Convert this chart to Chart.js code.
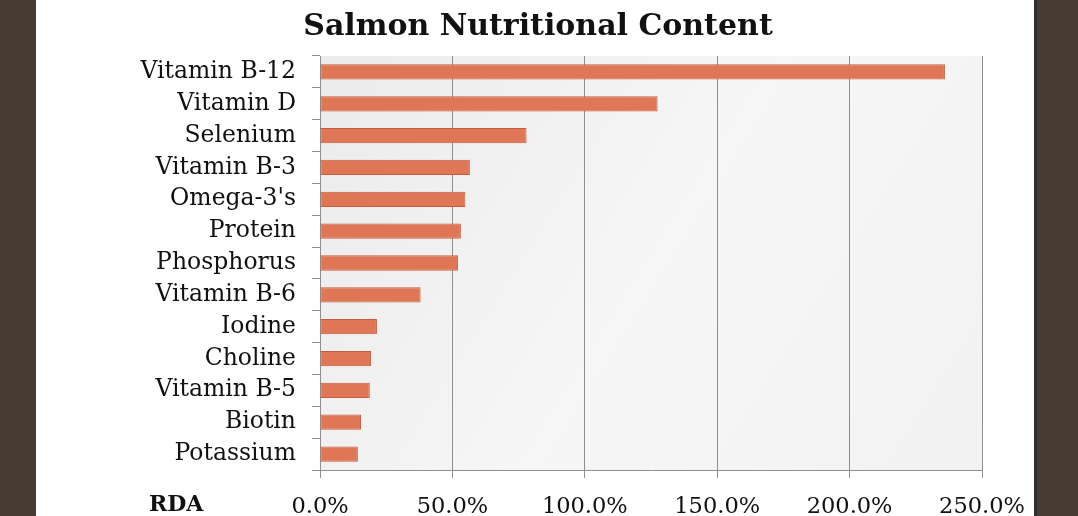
<!DOCTYPE html>
<html>
<head>
<meta charset="utf-8">
<script src="https://cdn.jsdelivr.net/npm/chart.js@4"></script>
<style>
    html, body { margin: 0; padding: 0; background: #463c33; }
    #frame {
        position: absolute;
        left: 36px;
        top: 0;
        width: 998px;
        height: 516px;
        background: #ffffff;
        border-right: 3px solid #2f2f2f;
    }
</style>
</head>
<body>
<div id="frame"><canvas id="salmonChart" width="998" height="516"></canvas></div>
<script>
    const nutrients = [
        "Vitamin B-12", "Vitamin D", "Selenium", "Vitamin B-3", "Omega-3's",
        "Protein", "Phosphorus", "Vitamin B-6", "Iodine", "Choline",
        "Vitamin B-5", "Biotin", "Potassium"
    ];
    const rdaPercent = [236, 127.5, 78, 56.6, 54.9, 53.2, 52.1, 38, 21.5, 19.3, 18.8, 15.5, 14.3];
    const axisTicks = [0, 50, 100, 150, 200, 250];
    const chartTitle = "Salmon Nutritional Content";
    const axisCaption = "RDA";

    const serif = "'DejaVu Serif', Georgia, serif";

    // soft grey panel behind the bars, title centred on the page, "RDA" caption
    const plotPanel = {
        id: "plotPanel",
        beforeDraw(chart) {
            const { ctx, chartArea: a } = chart;
            const g = ctx.createLinearGradient(a.left, a.top, a.right, a.bottom);
            g.addColorStop(0, "#ebebeb");
            g.addColorStop(0.5, "#f6f6f6");
            g.addColorStop(1, "#f2f2f2");
            ctx.save();
            ctx.fillStyle = g;
            ctx.fillRect(a.left, a.top, a.right - a.left, a.bottom - a.top);
            ctx.restore();
        },
        afterDraw(chart) {
            const { ctx } = chart;
            ctx.save();
            ctx.fillStyle = "#111";
            ctx.textBaseline = "alphabetic";
            ctx.textAlign = "center";
            ctx.font = "bold 30px " + serif;
            ctx.fillText(chartTitle, 502, 35);
            ctx.textAlign = "left";
            ctx.font = "bold 22px " + serif;
            ctx.fillText(axisCaption, 113, 511);
            ctx.restore();
        }
    };

    new Chart(document.getElementById("salmonChart"), {
        type: "bar",
        data: {
            labels: nutrients,
            datasets: [
                {
                    label: "RDA",
                    data: rdaPercent,
                    backgroundColor: "#df7656",
                    borderColor: "#c55c3d",
                    borderWidth: 1,
                    borderSkipped: false,
                    categoryPercentage: 1,
                    barPercentage: 0.48
                }
            ]
        },
        options: {
            indexAxis: "y",
            responsive: false,
            animation: false,
            layout: {
                padding: { left: 0, right: 52, top: 56, bottom: 0 }
            },
            plugins: {
                legend: { display: false },
                tooltip: { enabled: false },
                title: { display: false }
            },
            scales: {
                x: {
                    min: 0,
                    max: 250,
                    afterBuildTicks(scale) {
                        scale.ticks = axisTicks.map(v => ({ value: v }));
                    },
                    afterFit(scale) {
                        scale.height = 46;
                        scale.paddingLeft = 0;
                        scale.paddingRight = 0;
                    },
                    grid: {
                        color: "#8f8f8f",
                        lineWidth: 1,
                        tickLength: 8
                    },
                    border: { color: "#8f8f8f" },
                    ticks: {
                        color: "#111",
                        padding: 16,
                        font: { family: serif, size: 22.5 },
                        maxRotation: 0,
                        callback: v => v.toFixed(1) + "%"
                    }
                },
                y: {
                    afterFit(scale) {
                        scale.width = 284;
                        scale.paddingTop = 0;
                        scale.paddingBottom = 0;
                    },
                    grid: {
                        drawOnChartArea: false,
                        color: "#8f8f8f",
                        tickLength: 8
                    },
                    border: { color: "#8f8f8f" },
                    ticks: {
                        color: "#111",
                        padding: 16,
                        font: { family: serif, size: 23.5 },
                        autoSkip: false
                    }
                }
            }
        },
        plugins: [plotPanel]
    });
</script>
</body>
</html>
